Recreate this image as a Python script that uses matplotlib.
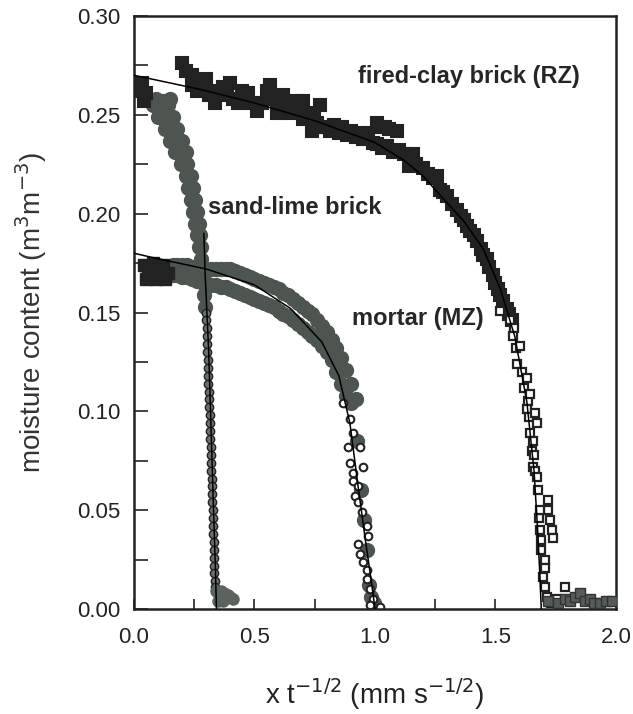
import matplotlib
matplotlib.use("Agg")
import matplotlib.pyplot as plt
from matplotlib.ticker import MultipleLocator

plt.rcParams['font.family'] = ['Liberation Sans', 'DejaVu Sans']

# fired-clay brick (RZ), upper part of the profile
clay_top_x = [0.03, 0.04, 0.05, 0.035,
              0.198, 0.215, 0.239, 0.239, 0.26, 0.28, 0.30, 0.31, 0.328, 0.336, 0.35, 0.37,
              0.385, 0.398, 0.41, 0.432, 0.45, 0.474, 0.49, 0.51, 0.53, 0.55, 0.564, 0.571,
              0.592, 0.60, 0.62, 0.635, 0.647, 0.66, 0.675, 0.69, 0.70, 0.70, 0.717, 0.737,
              0.745, 0.758, 0.772, 0.78, 0.793, 0.813, 0.83, 0.85, 0.865, 0.882, 0.90, 0.92,
              0.935, 0.951, 0.97, 0.99, 1.007, 1.02, 1.04, 1.06, 1.09, 1.007, 1.03, 1.05,
              1.076, 1.10, 1.12, 1.159, 1.14, 1.17, 1.20, 1.22, 1.24, 1.256, 1.27, 1.283,
              1.30, 1.32, 1.339, 1.355, 1.37, 1.38, 1.394, 1.41, 1.422, 1.44, 1.45, 1.463,
              1.475, 1.49, 1.50, 1.51, 1.519, 1.53, 1.546, 1.556, 1.567]
clay_top_y = [0.262, 0.257, 0.261, 0.266,
              0.276, 0.272, 0.270, 0.265, 0.262, 0.263, 0.268, 0.260, 0.261, 0.256, 0.262, 0.264,
              0.260, 0.266, 0.258, 0.256, 0.262, 0.261, 0.256, 0.252, 0.256, 0.262, 0.265, 0.258,
              0.251, 0.256, 0.260, 0.254, 0.251, 0.255, 0.257, 0.252, 0.257, 0.248, 0.251, 0.242,
              0.248, 0.246, 0.255, 0.244, 0.244, 0.242, 0.245, 0.241, 0.244, 0.240, 0.242, 0.239,
              0.241, 0.238, 0.241, 0.236, 0.246, 0.244, 0.244, 0.243, 0.242, 0.235, 0.233, 0.234,
              0.231, 0.232, 0.230, 0.230, 0.224, 0.225, 0.223, 0.220, 0.218, 0.219, 0.212, 0.211,
              0.209, 0.205, 0.202, 0.199, 0.197, 0.194, 0.191, 0.189, 0.186, 0.182, 0.179, 0.177,
              0.173, 0.169, 0.165, 0.162, 0.159, 0.156, 0.152, 0.149, 0.146]

# fired-clay brick (RZ), steep front: open squares
clay_low_x = [1.519, 1.56, 1.575, 1.574, 1.585, 1.60, 1.588, 1.61, 1.62, 1.63, 1.635, 1.643,
              1.63, 1.64, 1.664, 1.671, 1.643, 1.65, 1.655, 1.656, 1.66, 1.665, 1.671, 1.677,
              1.68, 1.719, 1.719, 1.685, 1.726, 1.733, 1.74, 1.685, 1.69, 1.69, 1.705, 1.705,
              1.697, 1.705, 1.712, 1.73, 1.754, 1.788]
clay_low_y = [0.151, 0.146, 0.142, 0.138, 0.132, 0.133, 0.124, 0.120, 0.112, 0.117, 0.105, 0.109,
              0.101, 0.097, 0.099, 0.094, 0.089, 0.080, 0.085, 0.072, 0.078, 0.070, 0.067, 0.060,
              0.046, 0.055, 0.050, 0.050, 0.045, 0.040, 0.036, 0.040, 0.035, 0.030, 0.025, 0.021,
              0.016, 0.011, 0.006, 0.003, 0.005, 0.011]

# fired-clay brick (RZ), dry tail beyond the front
clay_tail_x = [1.72, 1.76, 1.79, 1.81, 1.83, 1.85, 1.87, 1.892, 1.91, 1.934, 1.96, 1.982]
clay_tail_y = [0.004, 0.003, 0.005, 0.004, 0.006, 0.008, 0.004, 0.005, 0.003, 0.003, 0.004, 0.004]

clay_fit_x = [0.0, 0.27, 0.5, 0.75, 1.0, 1.12, 1.2, 1.28, 1.37, 1.45, 1.52, 1.58, 1.63, 1.66,
              1.675, 1.685, 1.69]
clay_fit_y = [0.270, 0.263, 0.256, 0.247, 0.236, 0.227, 0.219, 0.208, 0.196, 0.182, 0.162,
              0.138, 0.105, 0.070, 0.040, 0.015, 0.0]

# sand-lime brick, broad upper part
sand_x = [0.08, 0.11, 0.14, 0.10, 0.13, 0.16, 0.13, 0.155, 0.18, 0.15, 0.175, 0.20,
          0.17, 0.195, 0.215, 0.195, 0.22, 0.215, 0.235, 0.225, 0.245, 0.235, 0.255,
          0.245, 0.262, 0.255, 0.268, 0.262, 0.274, 0.27, 0.278, 0.277, 0.282, 0.287,
          0.291, 0.295, 0.068, 0.09, 0.12, 0.15]
sand_y = [0.255, 0.255, 0.255, 0.249, 0.249, 0.249, 0.243, 0.243, 0.243, 0.237, 0.237, 0.237,
          0.231, 0.231, 0.231, 0.225, 0.225, 0.219, 0.219, 0.213, 0.213, 0.207, 0.207,
          0.201, 0.201, 0.195, 0.195, 0.189, 0.189, 0.183, 0.183, 0.177, 0.171, 0.165,
          0.159, 0.153, 0.257, 0.258, 0.257, 0.258]

# sand-lime brick, narrow front
sand_thin_x = [0.299, 0.300, 0.301, 0.302, 0.303, 0.304, 0.305, 0.307, 0.308, 0.309, 0.310,
               0.311, 0.313, 0.314, 0.315, 0.316, 0.317, 0.318, 0.319, 0.320, 0.321, 0.322,
               0.323, 0.324, 0.325, 0.326, 0.327, 0.328, 0.329, 0.330, 0.331, 0.332, 0.333,
               0.334, 0.335, 0.337]
sand_thin_y = [0.150, 0.146, 0.142, 0.138, 0.134, 0.130, 0.126, 0.122, 0.118, 0.114, 0.110,
               0.106, 0.102, 0.098, 0.094, 0.090, 0.086, 0.082, 0.078, 0.074, 0.070, 0.066,
               0.062, 0.058, 0.054, 0.050, 0.046, 0.042, 0.038, 0.034, 0.030, 0.026, 0.022,
               0.018, 0.014, 0.011]

# sand-lime brick, dry foot
sand_foot_x = [0.340, 0.350, 0.362, 0.375, 0.388, 0.400, 0.412, 0.348, 0.368]
sand_foot_y = [0.009, 0.008, 0.009, 0.008, 0.007, 0.006, 0.005, 0.004, 0.004]

sand_fit_x = [0.29, 0.295, 0.31, 0.32, 0.33, 0.338, 0.342]
sand_fit_y = [0.19, 0.17, 0.13, 0.09, 0.05, 0.02, 0.0]

# mortar (MZ), near-surface points (dark)
mortar_dark_x = [0.04, 0.06, 0.08, 0.10, 0.12, 0.14, 0.05, 0.09, 0.13]
mortar_dark_y = [0.174, 0.170, 0.175, 0.171, 0.174, 0.170, 0.167, 0.167, 0.167]

# mortar (MZ), dense band
mortar_x = [0.16, 0.16, 0.18, 0.18, 0.20, 0.20, 0.22, 0.22, 0.24, 0.24, 0.26, 0.26, 0.28, 0.28,
            0.30, 0.30, 0.32, 0.32, 0.34, 0.34, 0.36, 0.36, 0.38, 0.38, 0.40, 0.40, 0.42, 0.42,
            0.44, 0.44, 0.46, 0.46, 0.48, 0.48, 0.50, 0.50, 0.52, 0.52, 0.54, 0.54, 0.56, 0.56,
            0.58, 0.58, 0.60, 0.60, 0.62, 0.62, 0.64, 0.64, 0.66, 0.66, 0.68, 0.68, 0.70, 0.70,
            0.72, 0.72, 0.74, 0.74, 0.76, 0.76, 0.78, 0.78, 0.80, 0.80, 0.82, 0.82, 0.84, 0.84,
            0.86, 0.86, 0.88, 0.88, 0.90, 0.90, 0.92, 0.925, 0.94, 0.955, 0.965, 0.975, 0.985,
            0.995]
mortar_y = [0.174, 0.169, 0.174, 0.169, 0.174, 0.168, 0.174, 0.168, 0.173, 0.167, 0.173, 0.166,
            0.173, 0.166, 0.172, 0.165, 0.172, 0.164, 0.172, 0.164, 0.172, 0.163, 0.172, 0.163,
            0.172, 0.162, 0.171, 0.161, 0.170, 0.160, 0.169, 0.159, 0.168, 0.158, 0.167, 0.157,
            0.166, 0.156, 0.165, 0.155, 0.164, 0.154, 0.163, 0.153, 0.162, 0.151, 0.160, 0.149,
            0.159, 0.148, 0.157, 0.146, 0.155, 0.144, 0.153, 0.142, 0.151, 0.140, 0.149, 0.138,
            0.146, 0.136, 0.143, 0.133, 0.140, 0.130, 0.136, 0.126, 0.132, 0.120, 0.127, 0.114,
            0.121, 0.108, 0.114, 0.104, 0.106, 0.085, 0.060, 0.045, 0.030, 0.012, 0.006,
            0.003]

# mortar (MZ), open circles near the front
mortar_open_x = [0.868, 0.896, 0.909, 0.888, 0.938, 0.896, 0.95, 0.909, 0.909, 0.93, 0.917,
                 0.93, 0.946, 0.967, 0.971, 0.93, 0.938, 0.95, 0.967, 0.967, 0.979, 0.992, 1.02,
                 0.98]
mortar_open_y = [0.104, 0.096, 0.089, 0.082, 0.082, 0.074, 0.072, 0.069, 0.065, 0.062, 0.057,
                 0.054, 0.049, 0.042, 0.037, 0.033, 0.028, 0.024, 0.020, 0.015, 0.010, 0.005,
                 0.001, 0.002]

mortar_fit_x = [0.0, 0.07, 0.3, 0.5, 0.65, 0.78, 0.85, 0.896, 0.93, 0.96, 0.986, 1.0]
mortar_fit_y = [0.180, 0.178, 0.172, 0.164, 0.152, 0.135, 0.118, 0.094, 0.062, 0.035, 0.013, 0.0]

fig = plt.figure(figsize=(6.33, 7.14), dpi=100)
ax = fig.add_axes([0.2117, 0.147, 0.7614, 0.8306])

grey = '#4e5551'
dark = '#222222'

ax.plot(mortar_x, mortar_y, 'o', ms=10, mfc=grey, mec=grey, zorder=2)
ax.plot(mortar_dark_x, mortar_dark_y, 's', ms=8, mfc=dark, mec=dark, zorder=2)
ax.plot(mortar_open_x, mortar_open_y, 'o', ms=5.5, mfc='white', mec=dark, mew=1.5, zorder=2)
ax.plot(mortar_fit_x, mortar_fit_y, '-', color='black', lw=1.1, zorder=4)

ax.plot(sand_x, sand_y, 'o', ms=10, mfc=grey, mec=grey, zorder=3)
ax.plot(sand_thin_x, sand_thin_y, 'o', ms=6, mfc='#6a706c', mec=dark, mew=1.0, zorder=3)
ax.plot(sand_foot_x, sand_foot_y, 'o', ms=8, mfc='#5c625e', mec='#5c625e', zorder=3)
ax.plot(sand_fit_x, sand_fit_y, '-', color='black', lw=1.1, zorder=4)

ax.plot(clay_top_x, clay_top_y, 's', ms=9, mfc=dark, mec=dark, mew=1.5, zorder=3)
ax.plot(clay_low_x, clay_low_y, 's', ms=6, mfc='white', mec=dark, mew=1.6, zorder=3)
ax.plot(clay_tail_x, clay_tail_y, 's', ms=7, mfc='#555b57', mec='#333333', mew=1, zorder=3)
ax.plot(clay_fit_x, clay_fit_y, '-', color='black', lw=1.1, zorder=4)

lab = dict(fontsize=17, fontweight='bold', color='#262626')
ax.text(0.929, 0.266, 'fired-clay brick (RZ)', **lab)
ax.text(0.307, 0.200, 'sand-lime brick', **lab)
ax.text(0.905, 0.1435, 'mortar (MZ)', **lab)

ax.set_xlim(0, 2.0)
ax.set_ylim(0, 0.30)
ax.xaxis.set_major_locator(MultipleLocator(0.5))
ax.xaxis.set_minor_locator(MultipleLocator(0.25))
ax.yaxis.set_major_locator(MultipleLocator(0.05))
ax.yaxis.set_minor_locator(MultipleLocator(0.025))
ax.xaxis.set_major_formatter(lambda v, p: f'{v:.1f}')
ax.yaxis.set_major_formatter(lambda v, p: f'{v:.2f}')
ax.tick_params(which='both', direction='in', top=False, right=False, width=1.2,
               labelsize=16, colors='#222222')
ax.tick_params(axis='y', which='both', length=10, pad=10)
ax.tick_params(axis='x', which='both', length=7, pad=13)
for s in ax.spines.values():
    s.set_linewidth(1.8)
    s.set_color('#222222')

ax.set_xlabel('x t$^{-1/2}$ (mm s$^{-1/2}$)', fontsize=20, color='#222222', va='center')
ax.xaxis.set_label_coords(0.5, -0.143)
ax.set_ylabel('moisture content (m$^3$m$^{-3}$)', fontsize=20, color='#333333', va='center')
ax.yaxis.set_label_coords(-0.214, 0.5)

fig.savefig('out.png', dpi=100)
